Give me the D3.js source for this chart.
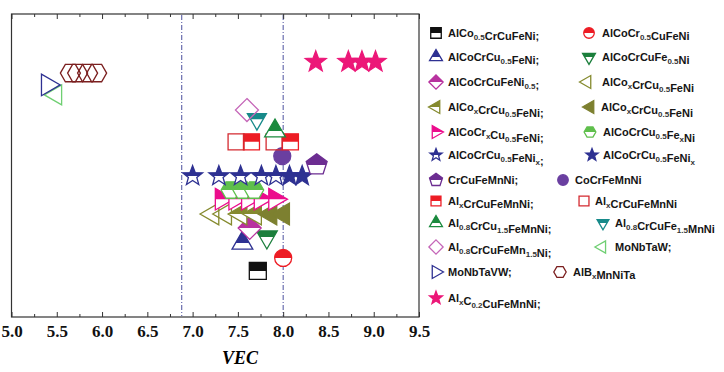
<!DOCTYPE html>
<html>
<head>
<meta charset="utf-8">
<script src="https://cdn.jsdelivr.net/npm/d3@7"></script>
<style>
  body { margin: 0; background: #fff; }
  svg { display: block; }
</style>
</head>
<body>
<div class="chart"></div>
<script>
// ======= VEC SCATTER WITH SYMBOL LEGEND ===========

// legend labels, _{..} marks a subscript
const alloys = [
  'AlCo_{0.5}CrCuFeNi;', 'AlCoCr_{0.5}CuFeNi',
  'AlCoCrCu_{0.5}FeNi;', 'AlCoCrCuFe_{0.5}Ni',
  'AlCoCrCuFeNi_{0.5};', 'AlCo_{x}CrCu_{0.5}FeNi',
  'AlCo_{x}CrCu_{0.5}FeNi;', 'AlCo_{x}CrCu_{0.5}FeNi',
  'AlCoCr_{x}Cu_{0.5}FeNi;', 'AlCoCrCu_{0.5}Fe_{x}Ni',
  'AlCoCrCu_{0.5}FeNi_{x};', 'AlCoCrCu_{0.5}FeNi_{x}',
  'CrCuFeMnNi;', 'CoCrFeMnNi',
  'Al_{x}CrCuFeMnNi;', 'Al_{x}CrCuFeMnNi',
  'Al_{0.8}CrCu_{1.5}FeMnNi;', 'Al_{0.8}CrCuFe_{1.5}MnNi',
  'Al_{0.8}CrCuFeMn_{1.5}Ni;', 'MoNbTaW;',
  'MoNbTaVW;', 'AlB_{x}MnNiTa',
  'Al_{x}C_{0.2}CuFeMnNi;'
]

// VEC values of each series
const vecValues = [
  [7.72], [8.0],
  [7.55], [7.82],
  [7.63], [7.22, 7.36],
  [7.53, 7.69], [7.86, 8.0],
  [7.32, 7.47, 7.61, 7.75, 7.91], [7.42, 7.55, 7.68],
  [7.0, 7.29, 7.53, 7.76, 7.92], [8.07, 8.21],
  [8.37], [7.99],
  [7.65, 8.08], [7.48, 7.9],
  [7.91], [7.71],
  [7.6], [5.49],
  [5.4], [5.65, 5.73, 5.84, 5.94],
  [8.36, 8.72, 8.87, 9.02]
]

// vertical level of each series (no units, y axis unlabeled)
const levels = [
  1.52, 1.95,
  2.44, 2.64,
  2.94, 3.4,
  3.4, 3.4,
  3.89, 4.19,
  4.65, 4.65,
  5.02, 5.31,
  5.78, 5.78,
  6.14, 6.53,
  6.83, 7.33,
  7.66, 8.05,
  8.42
]

const xTicks = [5.0, 5.5, 6.0, 6.5, 7.0, 7.5, 8.0, 8.5, 9.0, 9.5]
const refLines = [6.88, 8.0]

// marker style: shape, colour, fill mode (half / full / open), radius
const styles = [
  ['square', '#111111', 'half', 8.5], ['circle', '#ed1c24', 'half', 8.5],
  ['triUp', '#2e3192', 'half', 12], ['triDown', '#1b7f3c', 'half', 12],
  ['diamond', '#b8329f', 'half', 11.5], ['triLeft', '#858a2e', 'open', 12.5],
  ['triLeft', '#858a2e', 'half', 12.5], ['triLeft', '#7d8030', 'full', 12.5],
  ['triRight', '#ec0c8c', 'half', 12.5], ['hexagon', '#5fbf4c', 'half', 9.5],
  ['star', '#2e3192', 'half', 10.5], ['star', '#2e3192', 'full', 10.5],
  ['pentagon', '#6c2d91', 'half', 11], ['circle', '#6a3fa0', 'full', 8.5],
  ['square', '#ed1c24', 'half', 8], ['square', '#d42a30', 'open', 8],
  ['triUp', '#1b8a3e', 'half', 12], ['triDown', '#178a8a', 'half', 11],
  ['diamond', '#c566b8', 'open', 11.5], ['triLeft', '#6fcf72', 'open', 11.5],
  ['triRight', '#2e3192', 'open', 12.5], ['hexagon', '#7b1f1f', 'open', 10],
  ['star', '#ec1778', 'full', 11]
]

// legend right column: marker x, text x per row
const rightCol = [
  [589, 602], [589, 602], [587, 602], [590, 601], [590, 603], [592, 603],
  [563, 575], [584, 595], [603, 615], [602, 615], [560, 573]
]
const legendRows = [33, 57, 82, 107, 132, 155, 180, 201, 223, 247, 272, 298]

const W = 724
const H = 372

const svg = d3.select('.chart')
  .append('svg')
    .attr('width', W)
    .attr('height', H)

svg.append('defs')
  .append('clipPath')
    .attr('id', 'topHalf')
  .append('rect')
    .attr('x', -40).attr('y', -40)
    .attr('width', 80).attr('height', 40)

const xScale = d3.scaleLinear()
  .domain([5, 9.5])
  .range([11.5, 419])
const yScale = d3.scaleLinear()
  .domain([0, 10])
  .range([317, 14])

// polygon helper, "size" is used as circumradius
const poly = (n, start, inner) => ({
  draw (c, r) {
    const k = inner ? n * 2 : n
    for (let i = 0; i < k; i++) {
      const rr = inner && i % 2 ? r * inner : r
      const a = start + i * 2 * Math.PI / k
      const px = rr * Math.cos(a)
      const py = rr * Math.sin(a)
      if (i === 0) c.moveTo(px, py)
      else c.lineTo(px, py)
    }
    c.closePath()
  }
})
const shapes = {
  square: { draw (c, r) { c.rect(-r, -r, 2 * r, 2 * r) } },
  circle: { draw (c, r) { c.moveTo(r, 0); c.arc(0, 0, r, 0, 2 * Math.PI) } },
  triUp: poly(3, -Math.PI / 2),
  triDown: poly(3, Math.PI / 2),
  triLeft: poly(3, Math.PI),
  triRight: poly(3, 0),
  diamond: poly(4, -Math.PI / 2),
  pentagon: poly(5, -Math.PI / 2),
  hexagon: poly(6, 0),
  star: poly(5, -Math.PI / 2, 0.42)
}

function drawMarker (g, st, r) {
  const [shape, color, mode] = st
  const d = d3.symbol().type(shapes[shape]).size(r)()
  if (mode === 'half') {
    g.append('path').attr('d', d).attr('fill', '#fff')
    g.append('path').attr('d', d).attr('fill', color)
      .attr('clip-path', 'url(#topHalf)')
  }
  g.append('path')
    .attr('d', d)
    .attr('fill', mode === 'full' ? color : 'none')
    .attr('stroke', color)
    .attr('stroke-width', 1.3)
}

// frame
svg.append('rect')
  .attr('x', 11.5).attr('y', 14)
  .attr('width', 407.5).attr('height', 303)
  .attr('fill', 'none')
  .attr('stroke', '#333')
  .attr('stroke-width', 1.2)

// dash-dot reference lines
svg.selectAll('line.ref')
  .data(refLines)
  .enter()
  .append('line')
    .attr('class', 'ref')
    .attr('x1', d => xScale(d)).attr('x2', d => xScale(d))
    .attr('y1', 15).attr('y2', 316)
    .attr('stroke', '#4b4f9e')
    .attr('stroke-width', 1)
    .attr('stroke-dasharray', '5,2,1,2')

// axes, ticks pointing inward
const minor = d3.range(5.25, 9.5, 0.5)
const bottom = svg.append('g')
  .attr('transform', 'translate(0, 317)')
  .call(d3.axisBottom(xScale).tickValues(xTicks)
    .tickFormat(d3.format('.1f')).tickSizeInner(-5).tickSizeOuter(0).tickPadding(8))
bottom.selectAll('text')
  .attr('font-family', '"Liberation Serif", "Times New Roman", serif')
  .attr('font-weight', 'bold')
  .attr('font-size', 17)
  .attr('fill', '#111')
svg.append('g')
  .attr('transform', 'translate(0, 317)')
  .call(d3.axisBottom(xScale).tickValues(minor).tickFormat('').tickSizeInner(-3).tickSizeOuter(0))
svg.append('g')
  .attr('transform', 'translate(0, 14)')
  .call(d3.axisTop(xScale).tickValues(xTicks).tickFormat('').tickSizeInner(-5).tickSizeOuter(0))
svg.append('g')
  .attr('transform', 'translate(0, 14)')
  .call(d3.axisTop(xScale).tickValues(minor).tickFormat('').tickSizeInner(-3).tickSizeOuter(0))
svg.selectAll('.domain').remove()
svg.selectAll('.tick line').attr('stroke', '#333')

svg.append('text')
  .attr('x', 240).attr('y', 364)
  .attr('text-anchor', 'middle')
  .attr('font-family', '"Liberation Serif", "Times New Roman", serif')
  .attr('font-style', 'italic')
  .attr('font-weight', 'bold')
  .attr('font-size', 18)
  .text('VEC')

// data marks
const points = []
vecValues.forEach((vals, i) => vals.forEach(v => points.push({ s: i, vec: v, lvl: levels[i] })))

svg.selectAll('g.pt')
  .data(points)
  .enter()
  .append('g')
    .attr('class', 'pt')
    .attr('transform', d => `translate(${xScale(d.vec)}, ${yScale(d.lvl)})`)
    .each(function (d) { drawMarker(d3.select(this), styles[d.s], styles[d.s][3]) })

// legend
const legend = svg.append('g')
  .attr('font-family', '"Liberation Sans", Arial, sans-serif')
  .attr('font-weight', 'bold')
  .attr('font-size', 11)
  .attr('fill', '#151515')

alloys.forEach((label, i) => {
  const row = Math.floor(i / 2)
  const [mx, tx] = i % 2 ? rightCol[row] : [436, 448]
  const ly = legendRows[row]
  const g = legend.append('g').attr('transform', `translate(${mx}, ${ly})`)
  drawMarker(g, styles[i], Math.min(styles[i][3] * 0.62, 7.5))

  const t = legend.append('text').attr('x', tx).attr('y', ly + 4)
  label.split(/(_\{[^}]*\})/).filter(p => p).forEach(p => {
    if (p[0] === '_') {
      t.append('tspan').attr('dy', 3).attr('font-size', 8).attr('fill', '#333')
        .text(p.slice(2, -1))
      t.append('tspan').attr('dy', -3).text('')
    } else {
      t.append('tspan').text(p)
    }
  })
})
</script>
</body>
</html>
